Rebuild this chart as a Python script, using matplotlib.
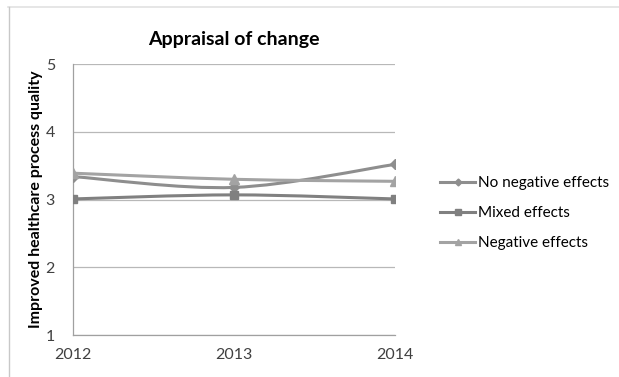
import matplotlib.pyplot as plt
from matplotlib.lines import Line2D
from matplotlib.patches import PathPatch
from matplotlib.path import Path

plt.rcParams["font.family"] = ["Lato", "DejaVu Sans"]

years = [2012, 2013, 2014]
no_negative = [3.34, 3.18, 3.52]
mixed = [3.01, 3.07, 3.01]
negative = [3.39, 3.30, 3.27]

series = [
    ("No negative effects", no_negative, "D", "#8e8e8e", 5),
    ("Mixed effects", mixed, "s", "#808080", 6),
    ("Negative effects", negative, "^", "#a3a3a3", 6.5),
]


def smooth_path(xs, ys):
    """Catmull-Rom style bezier through the points, like a spreadsheet smoothed line."""
    pts = list(zip(xs, ys))
    verts = [pts[0]]
    codes = [Path.MOVETO]
    for i in range(len(pts) - 1):
        p0 = pts[i - 1] if i > 0 else pts[i]
        p1 = pts[i]
        p2 = pts[i + 1]
        p3 = pts[i + 2] if i + 2 < len(pts) else pts[i + 1]
        c1 = (p1[0] + (p2[0] - p0[0]) / 6, p1[1] + (p2[1] - p0[1]) / 6)
        c2 = (p2[0] - (p3[0] - p1[0]) / 6, p2[1] - (p3[1] - p1[1]) / 6)
        verts += [c1, c2, p2]
        codes += [Path.CURVE4] * 3
    return Path(verts, codes)


fig = plt.figure(figsize=(6.19, 3.77), dpi=100)
ax = fig.add_axes([0.118, 0.111, 0.520, 0.719])

handles = []
for label, values, marker, color, msize in series:
    patch = PathPatch(smooth_path(years, values), facecolor="none",
                      edgecolor=color, lw=2.2, zorder=3)
    ax.add_patch(patch)
    ax.plot(years, values, linestyle="none", marker=marker, color=color,
            markersize=msize, zorder=4)
    handles.append(Line2D([], [], color=color, lw=2.2, marker=marker,
                          markersize=msize * 0.7, label=label))

ax.set_xlim(2012, 2014)
ax.set_ylim(1, 5)
ax.set_xticks(years)
ax.set_yticks([1, 2, 3, 4, 5])
ax.yaxis.grid(True, color="#b8b8b8", lw=0.9)
ax.set_axisbelow(True)
for side in ["top", "right"]:
    ax.spines[side].set_visible(False)
for side in ["left", "bottom"]:
    ax.spines[side].set_color("#a0a0a0")
    ax.spines[side].set_linewidth(0.9)
ax.tick_params(length=0, labelsize=11.5, colors="#404040")
ax.tick_params(axis="x", pad=9)
ax.tick_params(axis="y", pad=13)

ax.set_title("Appraisal of change", fontsize=14, fontweight="bold", pad=14)
ax.set_ylabel("Improved healthcare process quality", fontsize=11.5,
              fontweight="bold", labelpad=2)

fig.legend(handles=handles, loc="center left", bbox_to_anchor=(0.711, 0.435),
           frameon=False, fontsize=11, handlelength=2.3, labelspacing=1.05,
           handletextpad=0.2, borderpad=0, borderaxespad=0)

# thin border around the chart area
fig.add_artist(Line2D([0.013, 1.0], [0.981, 0.981], color="#e2e2e2", lw=1.2))
fig.add_artist(Line2D([0.014, 0.014], [0.0, 0.981], color="#c8c8c8", lw=1.0))

fig.savefig("out.png", dpi=100)
